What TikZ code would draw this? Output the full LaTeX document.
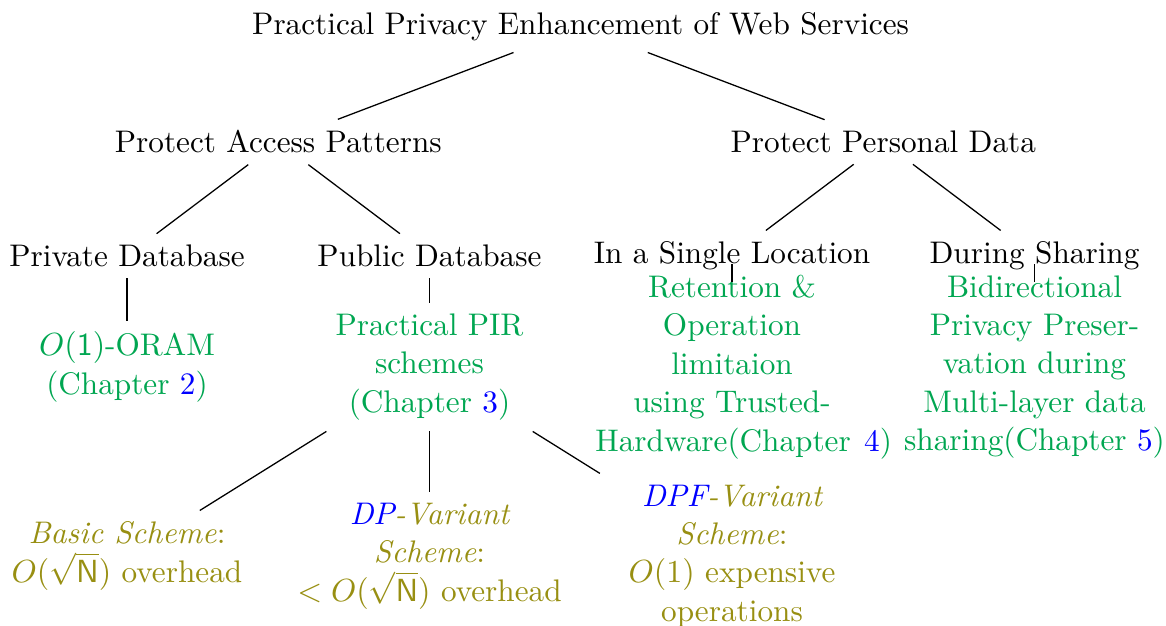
\documentclass[tikz,border=0pt]{standalone}

\definecolor{resgreen}{RGB}{0,166,81}
\definecolor{varolive}{RGB}{152,143,18}

\tikzset{
  every node/.style={font=\fontsize{9.76}{12}\selectfont},
  topic/.style={inner sep=0.3333em},
  leaf/.style={inner sep=0.3333em, text width=3cm, align=flush center},
  result/.style={leaf, text=resgreen},
  variant/.style={leaf, text=varolive},
  branch/.style={draw=black, line width=0.4pt},
}

\begin{document}
\begin{tikzpicture}[x=0.3125pt, y=-0.3125pt]
  \useasboundingbox (0,0) rectangle (1166,626);

  % root and first split
  \node[topic] (root) at (580.6,27) {Practical Privacy Enhancement of Web Services};
  \node[topic] (access) at (278.3,142) {Protect Access Patterns};
  \node[topic] (personal) at (883.3,142) {Protect Personal Data};

  % second level
  \node[topic] (private) at (127,256) {Private Database};
  \node[topic] (public) at (429.5,256) {Public Database};
  \node[topic] (single) at (732,256) {In a Single Location};
  \node[topic] (sharing) at (1034.5,256) {During Sharing};

  % contributions
  \node[result] (oram) at (127,367) {$O(\mathsf{1})$-ORAM\\(Chapter~\textcolor{blue}{2})};
  \node[result] (pir) at (429.5,367) {Practical PIR\\schemes\\(Chapter~\textcolor{blue}{3})};
  \node[result] (retention) at (732,367) {Retention \&\\Operation\\limitaion\\using Trusted-\\\mbox{Hardware(Chapter\hspace{4.2pt}\textcolor{blue}{4})}};
  \node[result] (bidir) at (1034.5,367) {Bidirectional\\Privacy Preser-\\vation during\\Multi-layer data\\sharing(Chapter~\textcolor{blue}{5})};

  % PIR variants
  \node[variant] (basic) at (127,556) {\emph{Basic Scheme}:\\$O(\sqrt{\mathsf{N}})$ overhead};
  \node[variant] (dp) at (429.5,556) {\emph{\textcolor{blue}{DP}-Variant\\Scheme}:\\$<O(\sqrt{\mathsf{N}})$ overhead};
  \node[variant] (dpf) at (732,556) {\emph{\textcolor{blue}{DPF}-Variant\\Scheme}:\\$O(1)$ expensive\\operations};

  % tree edges
  \draw[branch] (root) -- (access);
  \draw[branch] (root) -- (personal);
  \draw[branch] (access) -- (private);
  \draw[branch] (access) -- (public);
  \draw[branch] (personal) -- (single);
  \draw[branch] (personal) -- (sharing);
  \draw[branch] (private) -- (oram);
  \draw[branch] (public) -- (pir);
  \draw[branch] (single) -- (retention);
  \draw[branch] (sharing) -- (bidir);
  \draw[branch] (pir) -- (basic);
  \draw[branch] (pir) -- (dp);
  \draw[branch] (pir) -- (dpf);
\end{tikzpicture}
\end{document}
